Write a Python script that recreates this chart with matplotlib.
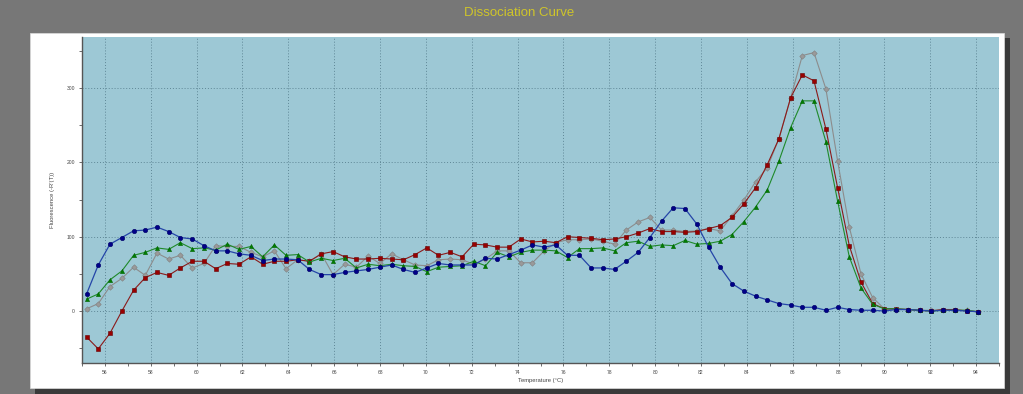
import matplotlib
matplotlib.use('Agg')
import matplotlib.pyplot as plt
from matplotlib.patches import Rectangle
from matplotlib.ticker import MultipleLocator

# temperatures of the melt steps (degC)
temps = [55.20, 55.71, 56.22, 56.74, 57.25, 57.76, 58.27, 58.78, 59.29, 59.81,
         60.32, 60.83, 61.34, 61.85, 62.37, 62.88, 63.39, 63.90, 64.41, 64.92,
         65.44, 65.95, 66.46, 66.97, 67.48, 67.99, 68.51, 69.02, 69.53, 70.04,
         70.55, 71.07, 71.58, 72.09, 72.60, 73.11, 73.62, 74.14, 74.65, 75.16,
         75.67, 76.18, 76.70, 77.21, 77.72, 78.23, 78.74, 79.26, 79.77, 80.28,
         80.79, 81.30, 81.82, 82.33, 82.84, 83.35, 83.86, 84.38, 84.89, 85.40,
         85.91, 86.42, 86.93, 87.45, 87.96, 88.47, 88.98, 89.49, 90.00, 90.52,
         91.03, 91.54, 92.05, 92.56, 93.07, 93.59, 94.10]

# -R'(T) per well
blue = [23, 62, 90, 99, 108, 109, 113, 107, 99, 97, 88, 81, 81, 77, 75, 68, 70, 70, 69, 56,
        49, 49, 52, 54, 56, 59, 62, 56, 52, 58, 64, 62, 62, 62, 71, 70, 76, 82, 89, 86,
        89, 75, 75, 58, 58, 56, 67, 79, 99, 121, 139, 138, 117, 86, 59, 37, 27, 20, 15, 10,
        8, 5, 5, 1, 5, 2, 1, 1, 0, 2, 2, 1, 0, 1, 1, 0, -1]
red = [-35, -51, -30, 0, 28, 45, 52, 48, 58, 67, 67, 57, 64, 63, 73, 63, 67, 67, 69, 67,
       77, 80, 73, 70, 70, 71, 70, 69, 76, 85, 75, 79, 73, 90, 89, 86, 86, 97, 93, 94,
       92, 100, 99, 98, 96, 97, 100, 105, 111, 107, 107, 106, 107, 111, 115, 126, 144, 166, 197, 232,
       287, 318, 310, 245, 166, 88, 39, 10, 3, 3, 2, 1, 0, 2, 2, 0, -1]
green = [16, 23, 42, 54, 75, 79, 85, 83, 92, 84, 85, 82, 90, 83, 87, 73, 89, 75, 76, 66,
         71, 68, 71, 58, 63, 61, 63, 61, 60, 53, 59, 60, 61, 67, 61, 79, 73, 79, 82, 82,
         81, 72, 84, 84, 85, 81, 92, 94, 87, 89, 88, 95, 90, 91, 94, 103, 120, 140, 163, 202,
         247, 283, 283, 228, 148, 73, 31, 9, 3, 3, 2, 1, 0, 1, 1, 1, -1]
gray = [3, 10, 33, 44, 59, 48, 78, 70, 75, 58, 64, 88, 87, 87, 79, 73, 81, 57, 69, 67,
        77, 49, 63, 59, 74, 64, 77, 69, 62, 61, 69, 70, 69, 63, 70, 81, 81, 65, 65, 81,
        92, 96, 96, 97, 94, 90, 109, 120, 126, 109, 109, 107, 108, 111, 108, 128, 149, 174, 193, 232,
        287, 344, 348, 299, 202, 113, 50, 18, 3, 2, 2, 1, 1, 2, 1, 1, -1]

W, H = 1023, 394
fig = plt.figure(figsize=(W / 100, H / 100), dpi=100, facecolor='#777777')

# white panel with a dark shadow (drawn below the axes)
fig.patches.append(Rectangle((35 / W, 0), 975 / W, (H - 38) / H, transform=fig.transFigure,
                             facecolor='#3a3a3a', edgecolor='none', zorder=-2))
fig.patches.append(Rectangle((30 / W, (H - 388) / H), 974 / W, 355 / H, transform=fig.transFigure,
                             facecolor='white', edgecolor='#dddddd', linewidth=0.5, zorder=-1))

fig.text(519 / W, 1 - 13 / H, 'Dissociation Curve', color='#cfc52a', fontsize=9.5,
         ha='center', va='center', family='Liberation Sans')

ax = fig.add_axes([82 / W, 31 / H, 917 / W, 326 / H])
ax.set_facecolor('#9dc8d5')

ax.plot(temps, gray, color='#8c8c8c', lw=0.8, marker='D', ms=2.8, mfc='#9a9a9a', mec='#7f7f7f', mew=0.4)
ax.plot(temps, red, color='#8b1a1a', lw=0.8, marker='s', ms=3.0, mfc='#990000', mec='#660000', mew=0.4)
ax.plot(temps, green, color='#1f8a2a', lw=0.8, marker='^', ms=3.0, mfc='#008000', mec='#006000', mew=0.4)
ax.plot(temps, blue, color='#2545a8', lw=0.9, marker='o', ms=3.2, mfc='#000088', mec='#000066', mew=0.4)

ax.set_xlim(55, 95)
ax.set_ylim(-70, 369)
ax.xaxis.set_minor_locator(MultipleLocator(1))
ax.yaxis.set_major_locator(MultipleLocator(100))
ax.yaxis.set_minor_locator(MultipleLocator(50))
ax.set_xticks(range(56, 95, 2))
ax.set_xticklabels([str(t) for t in range(56, 95, 2)])

ax.grid(True, which='major', color='#5f8796', linestyle=(0, (1, 2)), linewidth=0.7)
ax.set_axisbelow(True)

for s in ['top', 'right']:
    ax.spines[s].set_visible(False)
for s in ['left', 'bottom']:
    ax.spines[s].set_color('#555555')
    ax.spines[s].set_linewidth(1.0)

ax.tick_params(which='both', direction='out', colors='#555555', labelcolor='#444444',
               labelsize=3.6, width=0.6)
ax.tick_params(which='major', length=2.5, pad=2.5)
ax.tick_params(which='minor', length=2)
for lab in ax.get_xticklabels() + ax.get_yticklabels():
    lab.set_family('Liberation Sans')

ax.set_xlabel('Temperature (\u00b0C)', fontsize=4.2, color='#444444', labelpad=2,
              family='Liberation Sans')
ax.set_ylabel("Fluorescence (-R'(T))", fontsize=4.2, color='#444444', labelpad=8,
              family='Liberation Sans')

fig.savefig('out.png', dpi=100, facecolor=fig.get_facecolor())
